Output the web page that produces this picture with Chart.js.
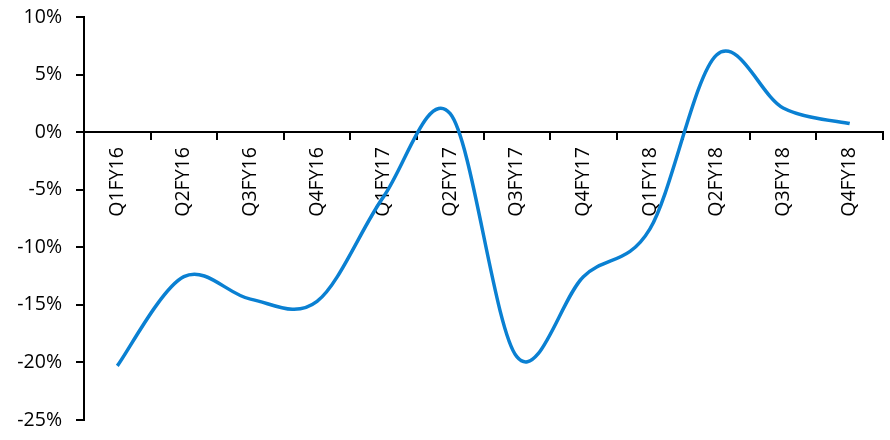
<!DOCTYPE html>
<html>
<head>
<meta charset="utf-8">
<script src="https://cdn.jsdelivr.net/npm/chart.js@4"></script>
<style>
  html, body { margin: 0; padding: 0; background: #fff; }
  #wrap { width: 890px; height: 440px; position: relative; }
</style>
</head>
<body>
<div id="wrap"><canvas id="c"></canvas></div>
<script>
// Quarterly growth, fiscal years 2016-2018
const quarters = ['Q1FY16','Q2FY16','Q3FY16','Q4FY16','Q1FY17','Q2FY17','Q3FY17','Q4FY17','Q1FY18','Q2FY18','Q3FY18','Q4FY18'];
const growthPct = [-20.3, -12.55, -14.5, -14.7, -5.6, 1.6, -19.5, -12.55, -8.4, 6.7, 2.1, 0.75];
const yTicks = [-25, -20, -15, -10, -5, 0, 5, 10];

const FONT = { family: '"Open Sans", Lato, sans-serif', size: 19.5 };

// Uniform Catmull-Rom smoothing: each point's bezier handles are a sixth of
// the vector between its neighbours (pixel positions come from the scales).
const catmullRom = {
  id: 'catmullRom',
  beforeDatasetDraw(chart, args) {
    const meta = args.meta;
    const line = meta.dataset;
    if (!line || !line.updateControlPoints) return;
    line.updateControlPoints(chart.chartArea, meta.iScale.axis);
    const pts = meta.data;
    const n = pts.length;
    for (let i = 0; i < n; i++) {
      const p = pts[i];
      const prev = pts[Math.max(i - 1, 0)];
      const next = pts[Math.min(i + 1, n - 1)];
      const dx = (next.x - prev.x) / 6;
      const dy = (next.y - prev.y) / 6;
      p.cp1x = p.x - dx; p.cp1y = p.y - dy;
      p.cp2x = p.x + dx; p.cp2y = p.y + dy;
    }
    line._path = undefined;
  }
};

new Chart(document.getElementById('c'), {
  type: 'line',
  data: {
    labels: quarters,
    datasets: [{
      data: growthPct,
      borderColor: '#0A80D2',
      borderWidth: 3.5,
      pointRadius: 0,
      tension: 0.4,
      fill: false
    }]
  },
  options: {
    responsive: true,
    maintainAspectRatio: false,
    animation: false,
    layout: { padding: { top: 0, right: 7, bottom: 0, left: 0 } },
    plugins: { legend: { display: false }, tooltip: { enabled: false } },
    scales: {
      x: {
        position: { y: 0 },
        offset: true,
        grid: { offset: true, drawOnChartArea: false, drawTicks: true, tickLength: 7, color: '#000', lineWidth: 2 },
        border: { color: '#000', width: 2 },
        ticks: { color: '#000', font: FONT, minRotation: 90, maxRotation: 90, padding: 8, autoSkip: false }
      },
      y: {
        min: -25,
        max: 10,
        afterBuildTicks: (s) => { s.ticks = yTicks.map(v => ({ value: v })); },
        afterFit: (s) => {
          s.width = 84;
          // plot spans y = 17 .. 420
          s.paddingTop = 17;
          s.paddingBottom = 20;
        },
        grid: { drawOnChartArea: false, drawTicks: true, tickLength: 8, color: '#000', lineWidth: 2 },
        border: { color: '#000', width: 2 },
        ticks: { color: '#000', font: FONT, padding: 14, callback: (v) => v + '%' }
      }
    }
  },
  plugins: [catmullRom]
});
</script>
</body>
</html>
